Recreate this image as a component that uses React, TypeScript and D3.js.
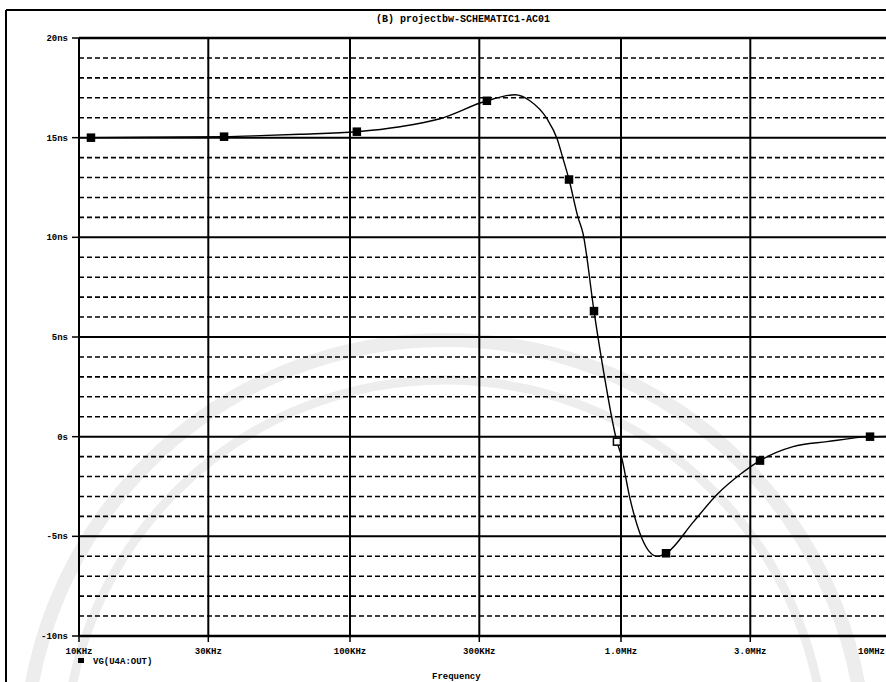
import React from "react";
import * as d3 from "d3";

// Group delay of the output node, AC sweep
const FREQ_HZ = [
  10000, 11070, 18280, 34300, 46600, 65300, 106000, 153000, 215000, 320000,
  406000, 461000, 533000, 581000, 611000, 643000, 694000, 724000, 795000,
  873000, 966000, 1000000, 1079000, 1194000, 1357000, 1466000, 1844000,
  2261000, 2748000, 3258000, 4315000, 5756000, 8297000, 10000000,
];
const DELAY_NS = [
  15.0, 15.0, 15.02, 15.05, 15.1, 15.17, 15.3, 15.55, 15.95, 16.85,
  17.15, 16.85, 15.95, 14.95, 13.95, 12.9, 11.0, 10.2, 6.3,
  2.85, -0.25, -0.9, -3.1, -5.1, -6.0, -5.85, -4.3,
  -2.9, -1.9, -1.2, -0.5, -0.25, 0.0, 0.02,
];
const MARKER_INDEX = [1, 3, 6, 9, 15, 18, 20, 25, 29, 32];

const X_TICKS = [1e4, 3e4, 1e5, 3e5, 1e6, 3e6, 1e7];
const X_TICK_LABELS = ["10KHz", "30KHz", "100KHz", "300KHz", "1.0MHz", "3.0MHz", "10MHz"];
const Y_TICKS = [20, 15, 10, 5, 0, -5, -10];
const Y_TICK_LABELS = ["20ns", "15ns", "10ns", "5ns", "0s", "-5ns", "-10ns"];

const TITLE = "(B) projectbw-SCHEMATIC1-AC01";
const TRACE_NAME = "VG(U4A:OUT)";
const X_AXIS_NAME = "Frequency";

const W = 886;
const H = 682;
const FONT = "'Liberation Mono', 'DejaVu Sans Mono', monospace";

export default function App() {
  const x = d3.scaleLog().domain([1e4, 1e7]).range([79, 892]);
  const y = d3.scaleLinear().domain([-10, 20]).range([636, 38]);
  const [x0, x1] = [79, W];

  const minor = d3.range(-9, 20).filter((v) => v % 5 !== 0);

  const pts: [number, number][] = FREQ_HZ.map((f, i) => [x(f), y(DELAY_NS[i])]);
  const line = d3.line().curve(d3.curveMonotoneX)(pts) || "";
  const lastTick = X_TICKS.length - 1;

  return (
    <svg
      width={W}
      height={H}
      style={{ position: "absolute", left: 0, top: 0, display: "block", background: "#fff" }}
      fontFamily={FONT}
    >
      {/* faint seal in the background */}
      <g fill="none" stroke="#ededed">
        <circle cx={445} cy={760} r={420} strokeWidth={14} />
        <circle cx={445} cy={760} r={380} strokeWidth={9} />
      </g>

      {/* outer frame */}
      <line x1={6} x2={W} y1={10} y2={10} stroke="#000" strokeWidth={2} />
      <line x1={6} x2={6} y1={10} y2={H} stroke="#000" strokeWidth={2} />

      <text x={463} y={22} fontSize={10} fontWeight="bold" textAnchor="middle">
        {TITLE}
      </text>

      {/* minor horizontal grid */}
      {minor.map((v) => (
        <line
          key={`m${v}`}
          x1={x0}
          x2={x1}
          y1={y(v)}
          y2={y(v)}
          stroke="#000"
          strokeWidth={1.6}
          strokeDasharray="5 3"
        />
      ))}

      {/* major horizontal grid */}
      {Y_TICKS.map((v) => (
        <line
          key={`M${v}`}
          x1={x0}
          x2={x1}
          y1={y(v)}
          y2={y(v)}
          stroke="#000"
          strokeWidth={v === 20 || v === -10 ? 2.5 : 2}
        />
      ))}

      {/* vertical grid */}
      {X_TICKS.map((f) => (
        <line key={`v${f}`} x1={x(f)} x2={x(f)} y1={y(20)} y2={y(-10)} stroke="#000" strokeWidth={2} />
      ))}

      {/* y axis ticks and labels */}
      {Y_TICKS.map((v, i) => (
        <g key={`yl${v}`}>
          <line x1={72} x2={x0} y1={y(v)} y2={y(v)} stroke="#000" strokeWidth={1.5} />
          <text x={68} y={y(v) + 3} fontSize={9} fontWeight="bold" textAnchor="end">
            {Y_TICK_LABELS[i]}
          </text>
        </g>
      ))}

      {/* x axis ticks and labels */}
      {X_TICKS.map((f, i) => (
        <g key={`xl${f}`}>
          <line x1={x(f)} x2={x(f)} y1={y(-10)} y2={y(-10) + 6} stroke="#000" strokeWidth={1.5} />
          <text
            x={i === lastTick ? W - 1 : x(f)}
            y={654}
            fontSize={9}
            fontWeight="bold"
            textAnchor={i === lastTick ? "end" : "middle"}
          >
            {X_TICK_LABELS[i]}
          </text>
        </g>
      ))}

      {/* trace */}
      <path d={line} fill="none" stroke="#000" strokeWidth={1.4} />
      {MARKER_INDEX.map((i) => (
        <rect
          key={`p${i}`}
          x={pts[i][0] - 3.5}
          y={pts[i][1] - 3.5}
          width={7}
          height={7}
          fill={i === 20 ? "#fff" : "#000"}
          stroke="#000"
          strokeWidth={1.5}
        />
      ))}

      {/* legend */}
      <rect x={78} y={658} width={6} height={5} fill="#000" />
      <text x={93} y={664} fontSize={9} fontWeight="bold">
        {TRACE_NAME}
      </text>

      <text x={432} y={679} fontSize={9} fontWeight="bold">
        {X_AXIS_NAME}
      </text>
    </svg>
  );
}
